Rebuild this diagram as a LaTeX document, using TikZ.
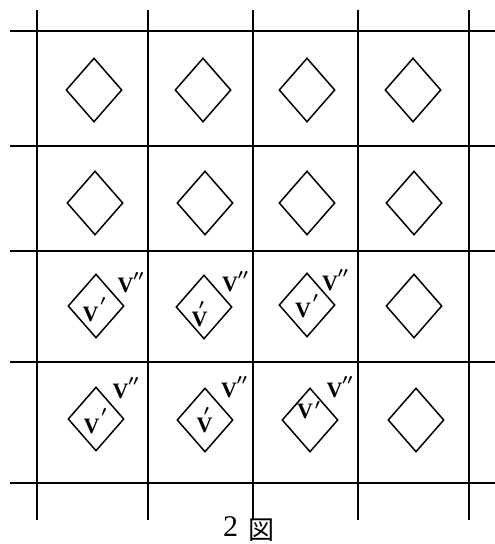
\documentclass[tikz,border=0pt]{standalone}
\usepackage{fontspec}
\newfontfamily\cjkfont{Noto Sans CJK JP}
\newfontfamily\timesfont{Liberation Serif}
\usetikzlibrary{shapes.geometric}
\newcommand\Vone[1]{V\rlap{\hspace{2pt}\raisebox{#1}{$'$}}}
\newcommand\Vtwo{V\rlap{\raisebox{5pt}{$''$}}}
\newcommand\Vtop{V\llap{\raisebox{10pt}{$'$}\hspace{3pt}}}
\tikzset{
  gridline/.style={line width=1.5pt},
  rhomb/.style={draw, shape=diamond, line width=1.5pt, inner sep=0pt, minimum width=56pt, minimum height=64pt},
  vlab/.style={inner sep=0pt, font=\fontsize{22}{24}\selectfont\timesfont\bfseries\boldmath}
}
\begin{document}
\begin{tikzpicture}[x=1pt,y=-1pt]
\useasboundingbox (0,0) rectangle (495,544);
% grid
\foreach \x in {37,148,253,358,469} \draw[gridline] (\x,10) -- (\x,520);
\foreach \y in {31,146,251,362,483} \draw[gridline] (10,\y) -- (495,\y);
% diamonds
\node[rhomb] (d11) at (94,90) {};
\node[rhomb] (d12) at (203,90) {};
\node[rhomb] (d13) at (307,90) {};
\node[rhomb] (d14) at (413,90) {};
\node[rhomb] (d21) at (95,203) {};
\node[rhomb] (d22) at (205,203) {};
\node[rhomb] (d23) at (307,203) {};
\node[rhomb] (d24) at (414,203) {};
\node[rhomb] (d31) at (96,306) {};
\node[rhomb] (d32) at (204,307) {};
\node[rhomb] (d33) at (307,305) {};
\node[rhomb] (d34) at (414,306) {};
\node[rhomb] (d41) at (96,419) {};
\node[rhomb] (d42) at (205,420) {};
\node[rhomb] (d43) at (310,420) {};
\node[rhomb] (d44) at (416,420) {};
% labels
\node[vlab] (a31) at (90.5,309.5) {\Vone{9pt}};
\node[vlab] (b31) at (125.5,282.5) {\Vtwo};
\node[vlab] (a32) at (199.5,314) {\Vtop};
\node[vlab] (b32) at (230,281.5) {\Vtwo};
\node[vlab] (a33) at (303,306) {\Vone{8pt}};
\node[vlab] (b33) at (330,280) {\Vtwo};
\node[vlab] (a41) at (91.5,421) {\Vone{9pt}};
\node[vlab] (b41) at (120.5,388) {\Vtwo};
\node[vlab] (a42) at (204.5,420) {\Vtop};
\node[vlab] (b42) at (229,387) {\Vtwo};
\node[vlab] (a43) at (305,410) {\Vone{2pt}};
\node[vlab] (b43) at (334.5,387) {\Vtwo};
% caption
\node[inner sep=0pt, font=\fontsize{30}{32}\selectfont\timesfont] (num) at (230.5,527) {2};
\node[inner sep=0pt, font=\fontsize{26}{28}\selectfont\cjkfont] (zu) at (261.5,530.5) {図};
\end{tikzpicture}
\end{document}
